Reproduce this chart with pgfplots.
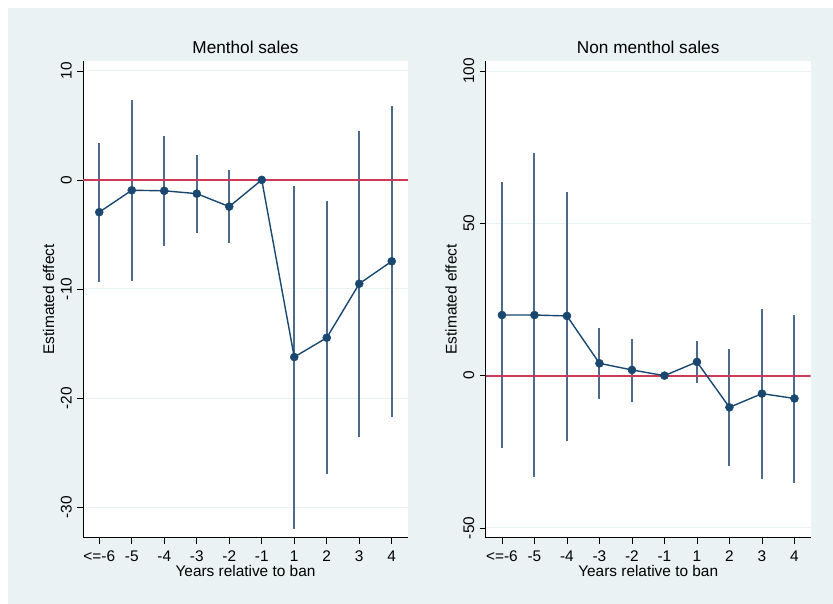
\documentclass[border=0pt]{standalone}
\usepackage{fontspec}
\setmainfont{Liberation Sans}
\usepackage{pgfplots}
\usepackage{pgfplotstable}
\pgfplotsset{compat=1.18}
\definecolor{statabg}{RGB}{234,242,243}
\definecolor{navy}{RGB}{26,71,111}
\definecolor{cicol}{RGB}{78,106,138}
\definecolor{refred}{RGB}{204,58,88}
\definecolor{gridc}{RGB}{234,242,243}

\pgfplotstableread{
x y lo hi
0 -2.96 -9.33 3.37
1 -0.95 -9.24 7.34
2 -1.00 -6.06 4.04
3 -1.26 -4.90 2.32
4 -2.45 -5.75 0.92
5 0 0 0
6 -16.24 -31.96 -0.52
7 -14.47 -27.0 -1.9
8 -9.52 -23.55 4.47
9 -7.46 -21.7 6.79
}\menthol

\pgfplotstableread{
x y lo hi
0 19.9 -23.8 63.5
1 19.9 -33.3 73.2
2 19.6 -21.4 60.4
3 4.05 -7.6 15.6
4 1.87 -8.5 12.1
5 0 0 0
6 4.5 -2.3 11.4
7 -10.4 -29.5 8.75
8 -5.9 -33.8 22.0
9 -7.5 -35.1 20.0
}\nonmenthol

\newcommand{\tfont}{\fontsize{15.4}{18}\selectfont}
\pgfplotsset{
 statastyle/.style={
   scale only axis, width=325pt, height=476.7pt,
   anchor=south west,
   xmin=-0.5, xmax=9.5,
   axis x line*=bottom, axis y line*=left,
   axis line style={black, line width=0.6pt, -},
   tick align=outside, major tick length=6pt,
   tick style={black, line width=0.6pt},
   xtick={0,...,9}, xticklabels={<=-6,-5,-4,-3,-2,-1,1,2,3,4},
   xticklabel style={anchor=base, yshift=-18pt, font=\tfont},
   yticklabel style={xshift=-5.5pt, rotate=90, anchor=base, font=\tfont},
   ymajorgrids, grid style={gridc, line width=1pt},
   axis background/.style={fill=white},
   every axis title/.style={at={([yshift=7.7pt]axis description cs:0.5,1)}, anchor=base, font=\fontsize{17.2}{20}\selectfont},
   every axis x label/.style={at={([yshift=-39pt]axis description cs:0.5,0)}, anchor=base, font=\tfont},
   every axis y label/.style={at={([xshift=-29pt]axis description cs:0,0.5)}, rotate=90, anchor=base, font=\tfont},
   xlabel={Years relative to ban}, ylabel={Estimated effect},
 },
 ciplot/.style={draw=none, mark=none, forget plot,
   error bars/.cd, y dir=both, y explicit, error mark=none,
   error bar style={draw=cicol, line width=2pt}},
 ptplot/.style={navy, line width=1.4pt, mark=*, mark size=4pt,
   mark options={fill=navy, draw=navy, line width=0.5pt}},
 refline/.style={draw=refred, color=refred, line width=2pt, mark=none, forget plot},
}

\begin{document}
\begin{tikzpicture}
\useasboundingbox (0,0) rectangle (833pt,604pt);
\fill[white] (0,0) rectangle (833pt,604pt);
\fill[statabg] (8pt,0) rectangle (833pt,596pt);

\begin{axis}[statastyle, at={(83pt,66.3pt)},
  ymin=-32.8, ymax=10.9, ytick={-30,-20,-10,0,10}, yticklabels={-30,-20,-10,0,10},
  title={Menthol sales}]
\addplot[ciplot] table[x=x, y=y, y error plus expr=\thisrow{hi}-\thisrow{y}, y error minus expr=\thisrow{y}-\thisrow{lo}] {\menthol};
\addplot[refline] coordinates {(-0.5,0) (9.5,0)};
\addplot[ptplot] table[x=x, y=y] {\menthol};
\end{axis}

\begin{axis}[statastyle, at={(485.7pt,66.3pt)},
  ymin=-53.2, ymax=103.3, ytick={-50,0,50,100}, yticklabels={-50,0,50,100},
  title={Non menthol sales}]
\addplot[ciplot] table[x=x, y=y, y error plus expr=\thisrow{hi}-\thisrow{y}, y error minus expr=\thisrow{y}-\thisrow{lo}] {\nonmenthol};
\addplot[refline] coordinates {(-0.5,0) (9.5,0)};
\addplot[ptplot] table[x=x, y=y] {\nonmenthol};
\end{axis}
\end{tikzpicture}
\end{document}
